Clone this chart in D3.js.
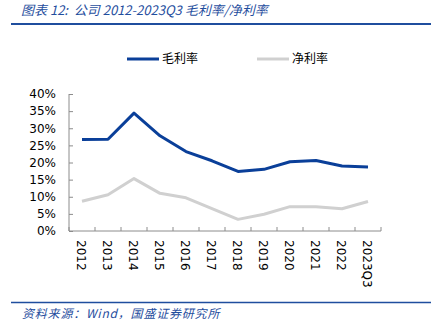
<!DOCTYPE html>
<html>
<head>
<meta charset="utf-8">
<script src="https://cdn.jsdelivr.net/npm/d3@7"></script>
<style>
  html, body { margin: 0; padding: 0; background: #fff; }
  svg { display: block; }
</style>
</head>
<body>
<svg id="chart" width="431" height="329"></svg>
<script>
// Years and margins (%)
const categories = ["2012","2013","2014","2015","2016","2017","2018","2019","2020","2021","2022","2023Q3"];
const grossMargin = [26.7, 26.8, 34.4, 27.8, 23.2, 20.5, 17.4, 18.0, 20.2, 20.6, 19.0, 18.7];
const netMargin   = [8.7, 10.6, 15.3, 11.0, 9.7, 6.5, 3.4, 4.9, 7.1, 7.1, 6.5, 8.6];
const yTicks = [0, 5, 10, 15, 20, 25, 30, 35, 40];
const seriesNames = ["毛利率", "净利率"];

const svg = d3.select("#chart");
const blue = "#0a3f99";
const grey = "#d0d0d0";
const axisColor = "#8c8c8c";
const fontLatin = "'DejaVu Sans', Verdana, sans-serif";
const fontCJK = "'Noto Sans CJK SC', sans-serif";

// Title and rule
svg.append("text")
  .attr("x", 21).attr("y", 15)
  .attr("xml:space", "preserve")
  .style("white-space", "pre")
  .attr("fill", "#1f4e9e")
  .attr("font-family", fontCJK)
  .attr("font-style", "italic")
  .attr("font-size", 13)
  .text("图表 12:  公司 2012-2023Q3 毛利率/净利率");
svg.append("line")
  .attr("x1", 11).attr("x2", 431).attr("y1", 24).attr("y2", 24)
  .attr("stroke", "#1f4e9e").attr("stroke-width", 2);

// Footer
svg.append("line")
  .attr("x1", 11).attr("x2", 431).attr("y1", 302.5).attr("y2", 302.5)
  .attr("stroke", "#1f4e9e").attr("stroke-width", 1.5);
svg.append("text")
  .attr("x", 22).attr("y", 318)
  .attr("fill", "#1f4e9e")
  .attr("font-family", fontCJK)
  .attr("font-style", "italic")
  .attr("font-size", 12)
  .attr("letter-spacing", 0.8)
  .text("资料来源：Wind，国盛证券研究所");

// Plot area
const plot = { left: 69, right: 381, top: 94, bottom: 231 };
const x = d3.scaleBand().domain(categories).range([plot.left, plot.right]);
const y = d3.scaleLinear().domain([0, 40]).range([plot.bottom, plot.top]);

// Y axis (ticks point inward)
const yAxis = svg.append("g")
  .attr("transform", `translate(${plot.left},0)`)
  .call(d3.axisLeft(y).tickValues(yTicks).tickSize(-4).tickPadding(13)
    .tickFormat(d => d + "%"));
yAxis.select(".domain").attr("stroke", axisColor).attr("d", `M0,${plot.top}V${plot.bottom}`);
yAxis.selectAll(".tick line").attr("stroke", axisColor);
yAxis.selectAll("text")
  .attr("font-family", fontLatin).attr("font-size", 12).attr("fill", "#000");

// X axis with ticks at band boundaries
const xg = svg.append("g").attr("transform", `translate(0,${plot.bottom})`);
xg.append("line").attr("x1", plot.left).attr("x2", plot.right).attr("y1", 0).attr("y2", 0)
  .attr("stroke", axisColor);
const boundaries = categories.map(c => x(c)).concat([plot.right]);
xg.selectAll(".xt").data(boundaries).join("line")
  .attr("x1", d => d).attr("x2", d => d).attr("y1", 0).attr("y2", -4)
  .attr("stroke", axisColor);
xg.selectAll(".xl").data(categories).join("text")
  .attr("transform", c => `translate(${x(c) + x.bandwidth() / 2 - 5},9) rotate(90)`)
  .attr("font-family", fontLatin).attr("font-size", 12).attr("fill", "#000")
  .text(c => c);

// Lines
const line = d3.line()
  .x((d, i) => x(categories[i]) + x.bandwidth() / 2)
  .y(d => y(d));
svg.append("path").datum(netMargin)
  .attr("d", line).attr("fill", "none")
  .attr("stroke", grey).attr("stroke-width", 3).attr("stroke-linejoin", "round");
svg.append("path").datum(grossMargin)
  .attr("d", line).attr("fill", "none")
  .attr("stroke", blue).attr("stroke-width", 3).attr("stroke-linejoin", "round");

// Legend
const legend = [
  { name: seriesNames[0], color: blue, x: 127 },
  { name: seriesNames[1], color: grey, x: 257 }
];
legend.forEach(l => {
  svg.append("line")
    .attr("x1", l.x).attr("x2", l.x + 32).attr("y1", 59).attr("y2", 59)
    .attr("stroke", l.color).attr("stroke-width", 3);
  svg.append("text")
    .attr("x", l.x + 35).attr("y", 63)
    .attr("font-family", fontCJK).attr("font-size", 12).attr("fill", "#000")
    .text(l.name);
});
</script>
</body>
</html>
